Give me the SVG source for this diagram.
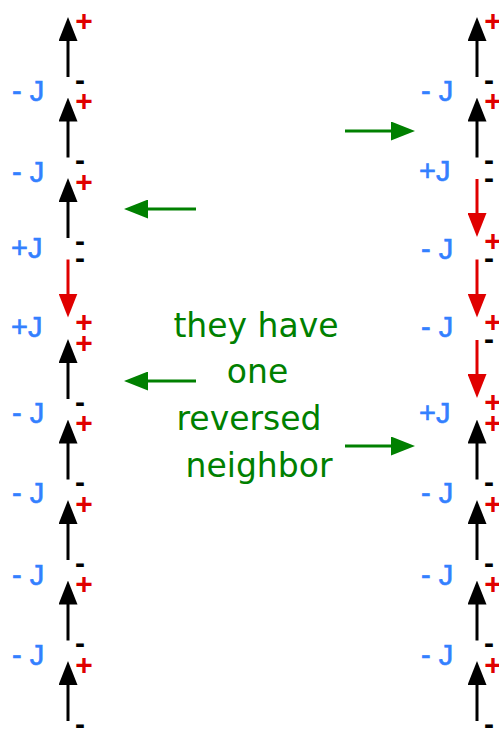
<svg xmlns="http://www.w3.org/2000/svg" width="499" height="729" viewBox="0 0 499 729">
  <style>
    .spin { stroke-width: 3; fill: none; }
    .up { stroke: #000; marker-end: url(#head-black); }
    .down { stroke: #e00000; marker-end: url(#head-red); }
    .plus { font-family: "Liberation Sans", Arial, sans-serif; font-weight: bold; font-size: 30px; fill: #e00000; text-anchor: middle; }
    .minus { font-family: "Liberation Sans", Arial, sans-serif; font-weight: bold; font-size: 30px; fill: #000; text-anchor: middle; }
    .coupling { font-family: "Liberation Sans", Arial, sans-serif; font-size: 29px; fill: #3380ff; stroke: #3380ff; stroke-width: 0.6; }
    .caption { font-family: "DejaVu Sans", sans-serif; font-size: 33px; fill: #008000; text-anchor: middle; }
    .pointer { stroke: #008000; stroke-width: 3; fill: none; marker-end: url(#head-green); }
  </style>
  <defs>
    <marker id="head-black" markerUnits="userSpaceOnUse" markerWidth="24" markerHeight="19" refX="1" refY="9.5" orient="auto">
      <path d="M0,0 L24,9.5 L0,19 z" fill="#000"/>
    </marker>
    <marker id="head-red" markerUnits="userSpaceOnUse" markerWidth="24" markerHeight="19" refX="1" refY="9.5" orient="auto">
      <path d="M0,0 L24,9.5 L0,19 z" fill="#e00000"/>
    </marker>
    <marker id="head-green" markerUnits="userSpaceOnUse" markerWidth="24" markerHeight="19" refX="1" refY="9.5" orient="auto">
      <path d="M0,0 L24,9.5 L0,19 z" fill="#008000"/>
    </marker>
  </defs>

  <!-- left chain: one flipped spin -->
  <g id="left-spin-0"><line class="spin up" x1="68" y1="77" x2="68" y2="40"/><text class="plus" x="84" y="30.7">+</text><text class="minus" x="80" y="89.5">-</text></g>
  <g id="left-spin-1"><line class="spin up" x1="68" y1="157.5" x2="68" y2="120.5"/><text class="plus" x="84" y="111.2">+</text><text class="minus" x="80" y="170">-</text></g>
  <g id="left-spin-2"><line class="spin up" x1="68" y1="238" x2="68" y2="201"/><text class="plus" x="84" y="191.7">+</text><text class="minus" x="80" y="250.5">-</text></g>
  <g id="left-spin-3"><line class="spin down" x1="68" y1="259.5" x2="68" y2="294.5"/><text class="minus" x="80" y="268">-</text><text class="plus" x="84" y="331.5">+</text></g>
  <g id="left-spin-4"><line class="spin up" x1="68" y1="399" x2="68" y2="362"/><text class="plus" x="84" y="352.7">+</text><text class="minus" x="80" y="411.5">-</text></g>
  <g id="left-spin-5"><line class="spin up" x1="68" y1="479.5" x2="68" y2="442.5"/><text class="plus" x="84" y="433.2">+</text><text class="minus" x="80" y="492">-</text></g>
  <g id="left-spin-6"><line class="spin up" x1="68" y1="560" x2="68" y2="523"/><text class="plus" x="84" y="513.7">+</text><text class="minus" x="80" y="572.5">-</text></g>
  <g id="left-spin-7"><line class="spin up" x1="68" y1="640.5" x2="68" y2="603.5"/><text class="plus" x="84" y="594.2">+</text><text class="minus" x="80" y="653">-</text></g>
  <g id="left-spin-8"><line class="spin up" x1="68" y1="721" x2="68" y2="684"/><text class="plus" x="84" y="674.7">+</text><text class="minus" x="80" y="733.5">-</text></g>

  <!-- left chain couplings -->
  <g id="left-bond-0"><text class="coupling" x="12" y="101">- J</text></g>
  <g id="left-bond-1"><text class="coupling" x="12" y="182">- J</text></g>
  <g id="left-bond-2"><text class="coupling" x="11" y="258">+J</text></g>
  <g id="left-bond-3"><text class="coupling" x="11" y="337">+J</text></g>
  <g id="left-bond-4"><text class="coupling" x="12" y="423">- J</text></g>
  <g id="left-bond-5"><text class="coupling" x="12" y="503">- J</text></g>
  <g id="left-bond-6"><text class="coupling" x="12" y="585">- J</text></g>
  <g id="left-bond-7"><text class="coupling" x="12" y="665">- J</text></g>

  <!-- right chain: three flipped spins -->
  <g id="right-spin-0"><line class="spin up" x1="477" y1="77" x2="477" y2="40"/><text class="plus" x="493" y="30.7">+</text><text class="minus" x="489" y="89.5">-</text></g>
  <g id="right-spin-1"><line class="spin up" x1="477" y1="157.5" x2="477" y2="120.5"/><text class="plus" x="493" y="111.2">+</text><text class="minus" x="489" y="170">-</text></g>
  <g id="right-spin-2"><line class="spin down" x1="477" y1="179" x2="477" y2="214"/><text class="minus" x="489" y="187.5">-</text><text class="plus" x="493" y="251">+</text></g>
  <g id="right-spin-3"><line class="spin down" x1="477" y1="259.5" x2="477" y2="294.5"/><text class="minus" x="489" y="268">-</text><text class="plus" x="493" y="331.5">+</text></g>
  <g id="right-spin-4"><line class="spin down" x1="477" y1="340" x2="477" y2="375"/><text class="minus" x="489" y="348.5">-</text><text class="plus" x="493" y="412">+</text></g>
  <g id="right-spin-5"><line class="spin up" x1="477" y1="479.5" x2="477" y2="442.5"/><text class="plus" x="493" y="433.2">+</text><text class="minus" x="489" y="492">-</text></g>
  <g id="right-spin-6"><line class="spin up" x1="477" y1="560" x2="477" y2="523"/><text class="plus" x="493" y="513.7">+</text><text class="minus" x="489" y="572.5">-</text></g>
  <g id="right-spin-7"><line class="spin up" x1="477" y1="640.5" x2="477" y2="603.5"/><text class="plus" x="493" y="594.2">+</text><text class="minus" x="489" y="653">-</text></g>
  <g id="right-spin-8"><line class="spin up" x1="477" y1="721" x2="477" y2="684"/><text class="plus" x="493" y="674.7">+</text><text class="minus" x="489" y="733.5">-</text></g>

  <!-- right chain couplings -->
  <g id="right-bond-0"><text class="coupling" x="421" y="101">- J</text></g>
  <g id="right-bond-1"><text class="coupling" x="419" y="181">+J</text></g>
  <g id="right-bond-2"><text class="coupling" x="421" y="259">- J</text></g>
  <g id="right-bond-3"><text class="coupling" x="421" y="337">- J</text></g>
  <g id="right-bond-4"><text class="coupling" x="419" y="423">+J</text></g>
  <g id="right-bond-5"><text class="coupling" x="421" y="503">- J</text></g>
  <g id="right-bond-6"><text class="coupling" x="421" y="585">- J</text></g>
  <g id="right-bond-7"><text class="coupling" x="421" y="665">- J</text></g>

  <!-- caption -->
  <g id="caption">
    <text class="caption" x="256" y="337">they have</text>
    <text class="caption" x="257.5" y="383">one</text>
    <text class="caption" x="249" y="430">reversed</text>
    <text class="caption" x="259" y="477">neighbor</text>
  </g>

  <!-- pointers from the caption to the affected bonds -->
  <g id="connectors">
    <line class="pointer" x1="196" y1="209" x2="147" y2="209"/>
    <line class="pointer" x1="196" y1="381" x2="147" y2="381"/>
    <line class="pointer" x1="345" y1="131" x2="392" y2="131"/>
    <line class="pointer" x1="345" y1="446" x2="392" y2="446"/>
  </g>
</svg>
